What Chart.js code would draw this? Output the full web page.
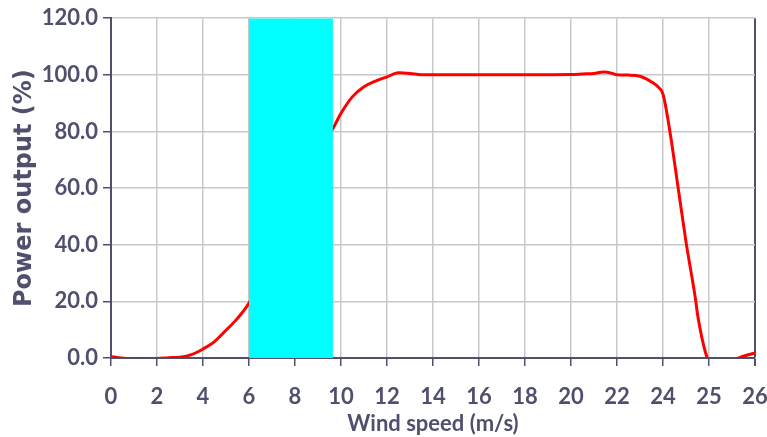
<!DOCTYPE html>
<html>
<head>
<meta charset="utf-8">
<script src="https://cdn.jsdelivr.net/npm/chart.js@4.4.1/dist/chart.umd.min.js"></script>
<style>
  html, body { margin: 0; padding: 0; background: #fff; }
  #wrap { width: 767px; height: 437px; }
</style>
</head>
<body>
<div id="wrap"><canvas id="powerChart"></canvas></div>
<script>
// tick labels of the wind speed axis (evenly spaced, last step is 1 m/s)
const tickSpeeds = [0, 2, 4, 6, 8, 10, 12, 14, 16, 18, 20, 22, 24, 25, 26];
const tickLabels = tickSpeeds.map(String);

// power curve
const windSpeed = [0, 1, 2, 2.5, 3, 3.5, 4, 4.5, 5, 5.5, 6, 7, 8, 9, 9.65, 10, 10.5, 11, 11.5, 12,
  12.5, 13, 13.5, 14, 16, 18, 20, 20.5, 21, 21.4, 21.8, 22, 22.5, 23, 23.5, 23.8, 24,
  24.15, 24.33, 24.5, 24.7, 24.76, 24.93, 25, 25.25, 25.5, 25.75, 26];
const powerOut = [0.4, -0.3, -0.2, 0.1, 0.3, 1.2, 3.2, 5.8, 9.8, 14, 19.4, 36, 55, 72, 81, 86.4, 92.3, 95.8, 97.8, 99.3,
  100.7, 100.5, 100, 100, 100, 100, 100.1, 100.3, 100.5, 101, 100.5, 100, 99.9, 99.5, 97.5, 95.6, 93.2,
  80, 60, 41, 21.5, 14.5, 1.6, -1, -3, -0.8, 0.6, 1.8];

// shaded band (m/s)
const bandStart = 6;
const bandEnd = 9.65;
const yMax = 120;

const axisColor = '#4f4f6e';
const gridColor = '#c8c8c8';

// wind speed -> position on the evenly spaced tick axis
function toPos(ws) {
  for (let i = 0; i < tickSpeeds.length - 1; i++) {
    if (ws <= tickSpeeds[i + 1]) {
      return i + (ws - tickSpeeds[i]) / (tickSpeeds[i + 1] - tickSpeeds[i]);
    }
  }
  return tickSpeeds.length - 1;
}

const curvePoints = windSpeed.map((ws, i) => ({ x: toPos(ws), y: powerOut[i] }));

const ctx = document.getElementById('powerChart').getContext('2d');
new Chart(ctx, {
  type: 'line',
  data: {
    datasets: [
      {
        label: 'band',
        data: [{ x: toPos(bandStart), y: yMax }, { x: toPos(bandEnd), y: yMax }],
        borderWidth: 0,
        pointRadius: 0,
        fill: 'origin',
        backgroundColor: '#00ffff',
        order: 0
      },
      {
        label: 'Power output',
        data: curvePoints,
        borderColor: '#ff0000',
        borderWidth: 3,
        pointRadius: 0,
        cubicInterpolationMode: 'monotone',
        fill: false,
        order: 1
      }
    ]
  },
  options: {
    responsive: true,
    maintainAspectRatio: false,
    animation: false,
    layout: { padding: { top: 16, right: 0, left: 0, bottom: 0 } },
    plugins: {
      legend: { display: false },
      tooltip: { enabled: false }
    },
    scales: {
      x: {
        type: 'linear',
        min: 0,
        max: tickSpeeds.length - 1,
        afterFit: s => { s.height = 79; s.paddingRight = 12; s.paddingLeft = 0; },
        border: { color: axisColor, width: 2 },
        grid: {
          color: c => (c.tick && c.tick.value === tickSpeeds.length - 1) ? axisColor : gridColor,
          lineWidth: c => (c.tick && c.tick.value === tickSpeeds.length - 1) ? 2 : 1.5,
          tickColor: axisColor,
          tickLength: 8
        },
        ticks: {
          stepSize: 1,
          autoSkip: false,
          maxRotation: 0,
          color: axisColor,
          font: { family: 'Lato', weight: 'bold', size: 22 },
          padding: 18,
          callback: v => tickLabels[v]
        },
        title: {
          display: true,
          text: 'Wind speed (m/s)',
          color: axisColor,
          font: { family: 'Lato', weight: 'bold', size: 22 },
          padding: { top: -10, bottom: 0 }
        }
      },
      y: {
        min: 0,
        max: yMax,
        afterFit: s => { s.width = 111; },
        border: { color: axisColor, width: 2 },
        grid: {
          color: gridColor,
          lineWidth: 1.5,
          tickColor: axisColor,
          tickLength: 8
        },
        ticks: {
          stepSize: 20,
          color: axisColor,
          font: { family: 'Lato', weight: 'bold', size: 22 },
          padding: 5,
          callback: v => v.toFixed(1)
        },
        title: {
          display: true,
          text: 'Power output (%)',
          color: axisColor,
          font: { family: '"DejaVu Sans"', weight: 'bold', size: 24 },
          padding: { top: 10, bottom: 0 }
        }
      }
    }
  }
});
</script>
</body>
</html>
